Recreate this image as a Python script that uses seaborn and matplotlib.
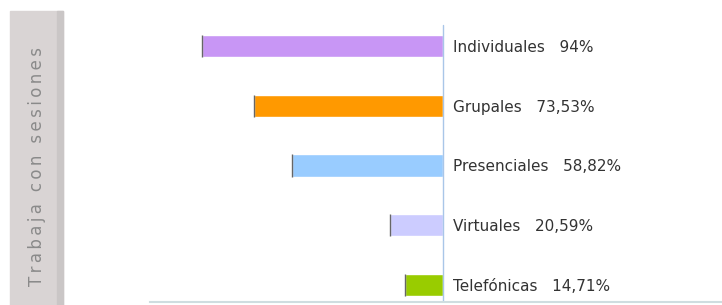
import matplotlib.pyplot as plt
import matplotlib.patches as mpatches
import pandas as pd
import seaborn as sns

sns.set_style("white")
plt.rcParams["font.family"] = ["DejaVu Sans"]

tipos = ["Individuales", "Grupales", "Presenciales", "Virtuales", "Telefónicas"]
porcentajes = [94.0, 73.53, 58.82, 20.59, 14.71]
etiquetas = ["94%", "73,53%", "58,82%", "20,59%", "14,71%"]
colores = ["#c896f5", "#ff9900", "#99ccff", "#ccccff", "#99cc00"]
titulo = "Trabaja con sesiones"

df = pd.DataFrame({"tipo": tipos, "pct": porcentajes})

fig = plt.figure(figsize=(7.22, 3.05), dpi=100)

# panel gris de la izquierda
fig.patches.append(mpatches.Rectangle((10 / 722, 0), 53 / 722, 294 / 305,
                                      transform=fig.transFigure, color="#d9d4d4", zorder=0))
fig.patches.append(mpatches.Rectangle((57 / 722, 0), 6 / 722, 294 / 305,
                                      transform=fig.transFigure, color="#cac6c6", zorder=0))
# el titulo original lleva espaciado entre letras
fig.text(37 / 722, 1 - 166 / 305, "\u2009".join(titulo), rotation=90,
         ha="center", va="center", fontsize=12, color="#8a8a8a")

ax = fig.add_axes([150 / 722, 3 / 305, 572 / 722, 292 / 305])
sns.barplot(data=df, x="pct", y="tipo", hue="tipo", palette=colores, orient="h",
            width=0.37, legend=False, ax=ax, saturation=1)

ax.set_xlim(114.2, -108.8)
ax.set_ylim(4.285, -0.603)
ax.axvline(0, ymax=0.949, color="#a9c6e8", lw=1)

# borde oscuro en el extremo de cada barra
for i, v in enumerate(porcentajes):
    ax.vlines(v, i - 0.185, i + 0.185, color="#666666", lw=1)
    ax.annotate(f"{tipos[i]}   {etiquetas[i]}", (0, i), xytext=(7, -1),
                textcoords="offset points", ha="left", va="center",
                fontsize=11, color="#333333")

for s in ["top", "left", "right"]:
    ax.spines[s].set_visible(False)
ax.spines["bottom"].set_color("#cfdde0")
ax.spines["bottom"].set_linewidth(1.5)
ax.set_xticks([])
ax.set_yticks([])
ax.set_xlabel("")
ax.set_ylabel("")
ax.patch.set_alpha(0)

fig.savefig("out.png", dpi=100)
